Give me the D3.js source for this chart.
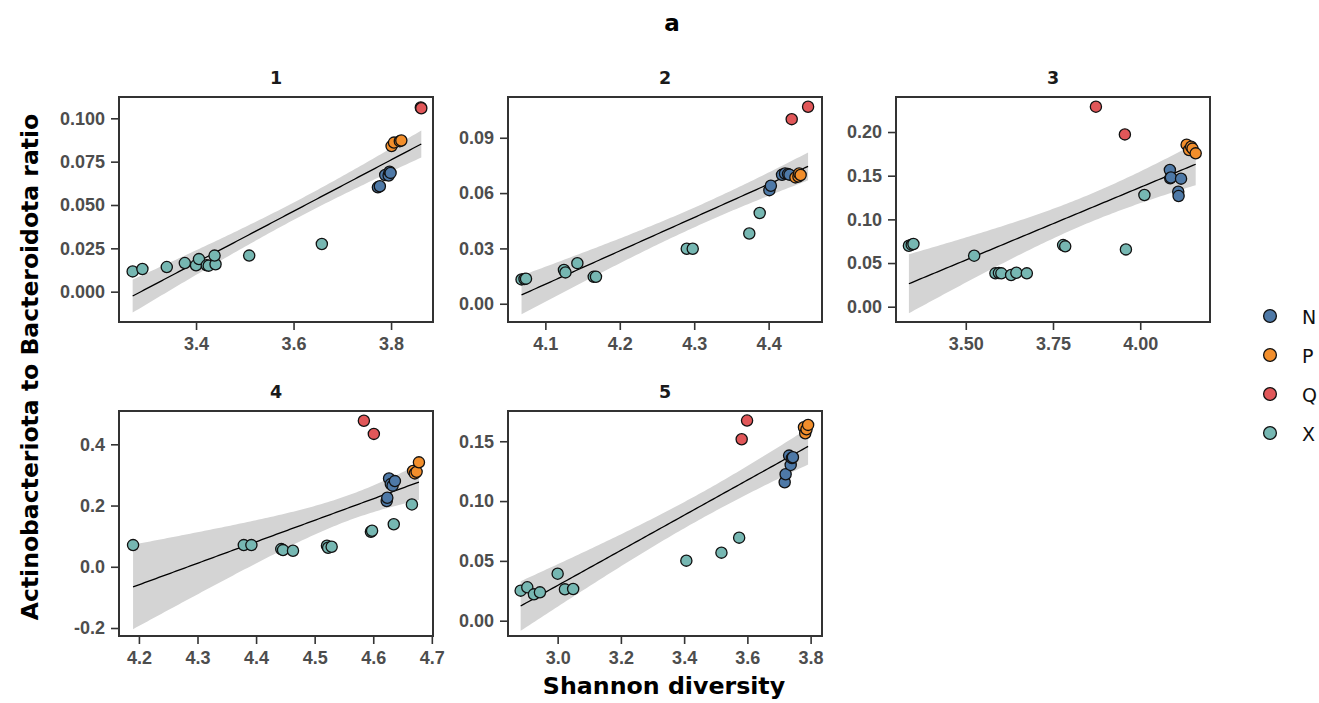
<!DOCTYPE html>
<html>
<head>
<meta charset="utf-8">
<script src="https://cdn.jsdelivr.net/npm/d3@7"></script>
<style>
  html, body { margin: 0; padding: 0; background: #fff; }
  svg { display: block; font-family: "DejaVu Sans", Verdana, sans-serif; }
</style>
</head>
<body>
<svg id="chart" width="1319" height="703"></svg>
<script>
// Shannon diversity (x) vs Actinobacteriota/Bacteroidota ratio (y), per group
const groups = ["N", "P", "Q", "X"];
const groupColors = ["#4e79a7", "#f28e2b", "#e15759", "#76b7b2"];

const panel1 = {
  X: [[3.270,0.0117],[3.290,0.0131],[3.340,0.0142],[3.377,0.0165],[3.400,0.0152],[3.406,0.0188],
      [3.422,0.0152],[3.426,0.0150],[3.440,0.0158],[3.438,0.0208],[3.509,0.0208],[3.658,0.0275]],
  N: [[3.773,0.0602],[3.777,0.0608],[3.788,0.0673],[3.795,0.0670],[3.797,0.0692],[3.799,0.0685]],
  P: [[3.801,0.0840],[3.806,0.0860],[3.818,0.0868],[3.821,0.0872]],
  Q: [[3.861,0.1063],[3.862,0.1058]]
};
const panel2 = {
  X: [[4.068,0.0132],[4.072,0.0134],[4.074,0.0136],[4.125,0.0183],[4.127,0.0170],[4.143,0.0220],
      [4.165,0.0146],[4.168,0.0146],[4.290,0.0298],[4.298,0.0298],[4.374,0.0381],[4.388,0.0492]],
  N: [[4.401,0.0616],[4.403,0.0640],[4.418,0.0699],[4.422,0.0706],[4.426,0.0703],[4.428,0.0700]],
  P: [[4.436,0.0685],[4.440,0.0690],[4.441,0.0706],[4.443,0.0698]],
  Q: [[4.431,0.1001],[4.453,0.1068]]
};
const panel3 = {
  X: [[3.337,0.0698],[3.345,0.0710],[3.350,0.0718],[3.524,0.0584],[3.585,0.0382],[3.595,0.0385],
      [3.602,0.0382],[3.630,0.0363],[3.645,0.0389],[3.675,0.0382],[3.779,0.0706],[3.785,0.0691],
      [3.959,0.0656],[4.012,0.1279]],
  N: [[4.085,0.1565],[4.086,0.1470],[4.088,0.1480],[4.109,0.1317],[4.110,0.1267],[4.117,0.1466]],
  P: [[4.133,0.1855],[4.140,0.1794],[4.146,0.1832],[4.150,0.1810],[4.159,0.1756]],
  Q: [[3.873,0.2290],[3.956,0.1973]]
};
const panel4 = {
  X: [[4.190,0.0708],[4.379,0.0708],[4.392,0.0708],[4.443,0.0577],[4.446,0.0544],[4.463,0.0523],
      [4.521,0.0686],[4.523,0.0620],[4.529,0.0653],[4.596,0.1143],[4.598,0.1176],[4.635,0.1390],
      [4.666,0.2036]],
  N: [[4.623,0.2145],[4.624,0.2254],[4.627,0.2885],[4.630,0.2700],[4.633,0.2650],[4.637,0.2798]],
  P: [[4.668,0.3130],[4.671,0.3050],[4.674,0.3100],[4.678,0.3410]],
  Q: [[4.584,0.4770],[4.601,0.4340]]
};
const panel5 = {
  X: [[2.883,0.0251],[2.904,0.0279],[2.925,0.0220],[2.944,0.0237],[3.000,0.0393],[3.023,0.0262],
      [3.049,0.0265],[3.407,0.0502],[3.518,0.0569],[3.574,0.0694]],
  N: [[3.718,0.1157],[3.721,0.1224],[3.732,0.1380],[3.737,0.1302],[3.741,0.1360],[3.744,0.1366]],
  P: [[3.779,0.1617],[3.783,0.1567],[3.787,0.1600],[3.792,0.1637]],
  Q: [[3.582,0.1517],[3.599,0.1673]]
};

const panelTitles = ["1", "2", "3", "4", "5"];
const xTickValues = [[3.4, 3.6, 3.8], [4.1, 4.2, 4.3, 4.4], [3.5, 3.75, 4.0], [4.2, 4.3, 4.4, 4.5, 4.6, 4.7], [3.0, 3.2, 3.4, 3.6, 3.8]];
const xTickLabels = [["3.4","3.6","3.8"], ["4.1","4.2","4.3","4.4"], ["3.50","3.75","4.00"], ["4.2","4.3","4.4","4.5","4.6","4.7"], ["3.0","3.2","3.4","3.6","3.8"]];
const yTickValues = [[0, 0.025, 0.05, 0.075, 0.1], [0, 0.03, 0.06, 0.09], [0, 0.05, 0.1, 0.15, 0.2], [-0.2, 0, 0.2, 0.4], [0, 0.05, 0.1, 0.15]];
const yTickLabels = [["0.000","0.025","0.050","0.075","0.100"], ["0.00","0.03","0.06","0.09"], ["0.00","0.05","0.10","0.15","0.20"], ["-0.2","0.0","0.2","0.4"], ["0.00","0.05","0.10","0.15"]];

// Frame placement and axis ranges for each panel
const layout = [
  { data: panel1, left: 119, top: 97,  xDom: [3.242, 3.886], yDom: [-0.0175, 0.1123] },
  { data: panel2, left: 508, top: 97,  xDom: [4.0498, 4.4717], yDom: [-0.0099, 0.1121] },
  { data: panel3, left: 896, top: 97,  xDom: [3.300, 4.200], yDom: [-0.0175, 0.2401] },
  { data: panel4, left: 119, top: 411, xDom: [4.166, 4.702], yDom: [-0.2261, 0.5088] },
  { data: panel5, left: 508, top: 411, xDom: [2.843, 3.836], yDom: [-0.0128, 0.1753] }
];
const panelW = 314, panelH = 225;

const svg = d3.select("#chart");
const color = d3.scaleOrdinal().domain(groups).range(groupColors);

// Student t quantile (Cornish-Fisher expansion around the normal quantile)
function tQuantile975(df) {
  const z = 1.959964;
  return z + (z ** 3 + z) / (4 * df) + (5 * z ** 5 + 16 * z ** 3 + 3 * z) / (96 * df * df)
    + (3 * z ** 7 + 19 * z ** 5 + 17 * z ** 3 - 15 * z) / (384 * df ** 3);
}

// Ordinary least squares fit with a 95% confidence band for the mean
function fitLine(points) {
  const n = points.length;
  const mx = d3.mean(points, d => d[0]);
  const my = d3.mean(points, d => d[1]);
  const sxx = d3.sum(points, d => (d[0] - mx) ** 2);
  const sxy = d3.sum(points, d => (d[0] - mx) * (d[1] - my));
  const slope = sxy / sxx;
  const intercept = my - slope * mx;
  const sse = d3.sum(points, d => (d[1] - (intercept + slope * d[0])) ** 2);
  const s = Math.sqrt(sse / (n - 2));
  const t = tQuantile975(n - 2);
  const [x0, x1] = d3.extent(points, d => d[0]);
  const grid = d3.range(0, 101).map(i => x0 + (x1 - x0) * i / 100);
  return grid.map(x => {
    const yhat = intercept + slope * x;
    const se = s * Math.sqrt(1 / n + (x - mx) ** 2 / sxx);
    return { x, y: yhat, lo: yhat - t * se, hi: yhat + t * se };
  });
}

const tickColor = "#4d4d4d";

layout.forEach((p, i) => {
  const g = svg.append("g").attr("transform", `translate(${p.left},${p.top})`);
  const x = d3.scaleLinear().domain(p.xDom).range([0, panelW]);
  const y = d3.scaleLinear().domain(p.yDom).range([panelH, 0]);

  const all = groups.flatMap(k => p.data[k]);
  const fit = fitLine(all);

  // Confidence band
  g.append("path")
    .datum(fit)
    .attr("fill", "#d4d4d4")
    .attr("d", d3.area().x(d => x(d.x)).y0(d => y(d.lo)).y1(d => y(d.hi)));

  // Regression line
  g.append("path")
    .datum(fit)
    .attr("fill", "none")
    .attr("stroke", "#000")
    .attr("stroke-width", 1.3)
    .attr("d", d3.line().x(d => x(d.x)).y(d => y(d.y)));

  // Points, drawn group by group
  ["X", "N", "P", "Q"].forEach(k => {
    g.selectAll(null)
      .data(p.data[k])
      .enter().append("circle")
      .attr("cx", d => x(d[0]))
      .attr("cy", d => y(d[1]))
      .attr("r", 5.6)
      .attr("fill", color(k))
      .attr("stroke", "#111")
      .attr("stroke-width", 1.3);
  });

  // Frame
  g.append("rect")
    .attr("width", panelW).attr("height", panelH)
    .attr("fill", "none").attr("stroke", "#333").attr("stroke-width", 2);

  // Axes
  const xAxis = d3.axisBottom(x).tickValues(xTickValues[i])
    .tickFormat((d, j) => xTickLabels[i][j]).tickSizeOuter(0).tickSize(7).tickPadding(7);
  const yAxis = d3.axisLeft(y).tickValues(yTickValues[i])
    .tickFormat((d, j) => yTickLabels[i][j]).tickSizeOuter(0).tickSize(7).tickPadding(6);

  const gx = g.append("g").attr("transform", `translate(0,${panelH + 1})`).call(xAxis);
  const gy = g.append("g").attr("transform", "translate(-1,0)").call(yAxis);
  [gx, gy].forEach(a => {
    a.select(".domain").remove();
    a.selectAll(".tick line").attr("stroke", "#333").attr("stroke-width", 1.6);
    a.selectAll(".tick text")
      .attr("fill", tickColor)
      .style("font-size", "18px")
      .style("font-weight", "bold");
  });

  // Panel title
  g.append("text")
    .attr("x", panelW / 2).attr("y", -13)
    .attr("text-anchor", "middle")
    .style("font-size", "17.5px").style("font-weight", "bold").attr("fill", "#1a1a1a")
    .text(panelTitles[i]);
});

// Figure title
svg.append("text")
  .attr("x", 672).attr("y", 31)
  .attr("text-anchor", "middle")
  .style("font-size", "23px").style("font-weight", "bold")
  .text("a");

// Shared axis titles
svg.append("text")
  .attr("x", 664).attr("y", 694)
  .attr("text-anchor", "middle")
  .style("font-size", "23.7px").style("font-weight", "bold")
  .text("Shannon diversity");

svg.append("text")
  .attr("transform", "translate(38,367) rotate(-90)")
  .attr("text-anchor", "middle")
  .style("font-size", "23.5px").style("font-weight", "bold")
  .text("Actinobacteriota to Bacteroidota ratio");

// Legend
const legend = svg.append("g").attr("transform", "translate(1270,316)");
groups.forEach((k, j) => {
  const row = legend.append("g").attr("transform", `translate(0,${j * 39})`);
  row.append("circle").attr("r", 6.4).attr("fill", color(k)).attr("stroke", "#111").attr("stroke-width", 1.3);
  row.append("text").attr("x", 32).attr("y", 7.5)
    .style("font-size", "19px").attr("fill", "#111").text(k);
});
</script>
</body>
</html>
